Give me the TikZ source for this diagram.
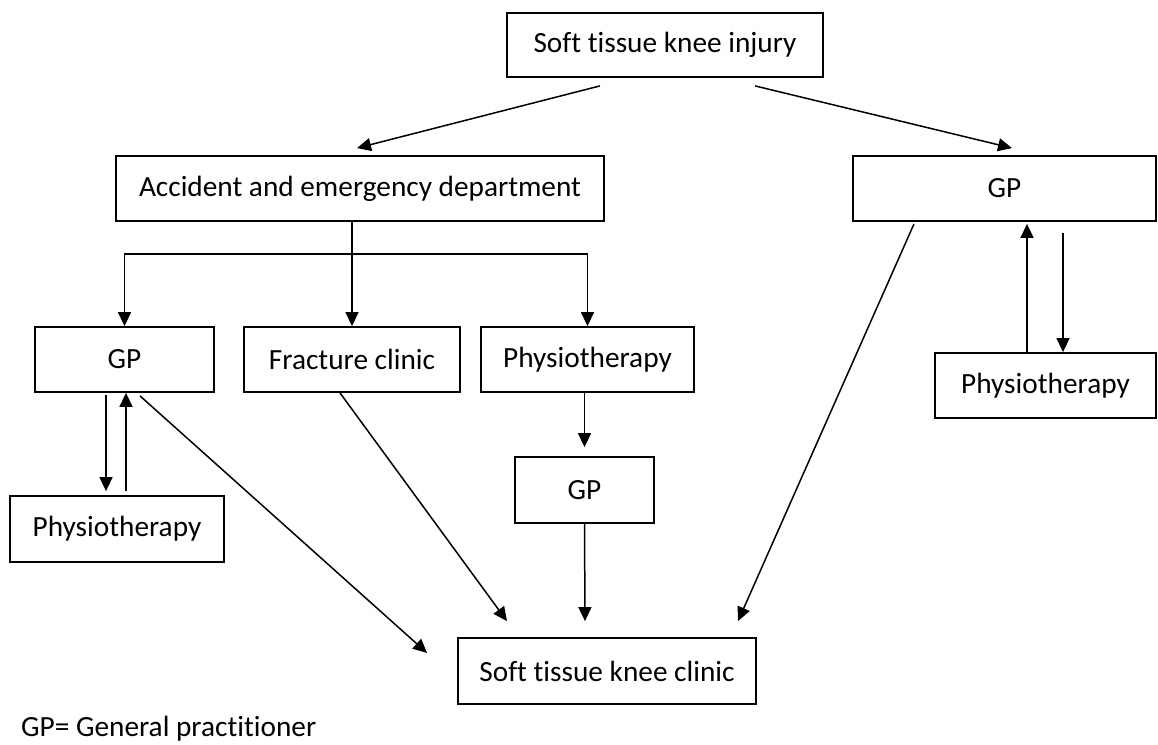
\documentclass[tikz,border=0pt]{standalone}
\usepackage{fontspec}
\setmainfont{Carlito}[Ligatures=NoCommon]
\usetikzlibrary{arrows.meta}

\begin{document}
\begin{tikzpicture}[
    x=1pt, y=-1pt,
    box/.style={draw, line width=1.8pt, inner sep=0pt, align=center, font=\fontsize{29.3}{35}\selectfont},
    arrow/.style={-{Triangle[length=14pt,width=13pt]}, line width=1.5pt}
]
    \useasboundingbox (0,0) rectangle (1158,744);

    \node[box, minimum width=316pt, minimum height=64pt] (injury) at (665, 45) {Soft tissue knee injury};
    \node[box, minimum width=488pt, minimum height=65pt] (ae) at (360, 188.5) {Accident and emergency department};
    \node[box, minimum width=303pt, minimum height=65pt] (gpR) at (1004.5, 188.5) {GP};
    \node[box, minimum width=179pt, minimum height=65pt] (gpL) at (124.5, 359.5) {GP};
    \node[box, minimum width=216pt, minimum height=65pt] (frac) at (352, 359.5) {Fracture clinic};
    \node[box, minimum width=213pt, minimum height=65pt] (physM) at (587.5, 359.5) {Physiotherapy};
    \node[box, minimum width=139pt, minimum height=66pt] (gpM) at (584.5, 490) {GP};
    \node[box, minimum width=214pt, minimum height=66pt] (physL) at (117, 529) {Physiotherapy};
    \node[box, minimum width=221pt, minimum height=65pt] (physR) at (1045.5, 385.5) {Physiotherapy};
    \node[box, minimum width=298pt, minimum height=66pt] (clinic) at (607, 671) {Soft tissue knee clinic};
    \node[anchor=base west, inner sep=0pt, font=\fontsize{29.3}{35}\selectfont] (note) at (21, 736) {GP= General practitioner};

    \coordinate (split) at (350, 254);

    \draw[arrow] ([xshift=-65pt,yshift=-8pt]injury.south) -- ([xshift=-3pt,yshift=7pt]ae.north);
    \draw[arrow] ([xshift=90pt,yshift=-8pt]injury.south) -- ([xshift=7.5pt,yshift=7pt]gpR.north);

    \draw[arrow] (frac.north |- ae.south) -- (frac.north);
    \draw[arrow] (split -| physM.north) -- (split -| gpL.north) -- (gpL.north);
    \draw[arrow] (split -| physM.north) -- (physM.north);

    \draw[arrow] ([xshift=-18.5pt,yshift=-2pt]gpL.south) -- ([xshift=-11pt,yshift=4pt]physL.north);
    \draw[arrow] ([xshift=9pt,yshift=4pt]physL.north) -- ([xshift=1.5pt]gpL.south);
    \draw[arrow] ([xshift=15.5pt,yshift=-3pt]gpL.south) -- ([xshift=-30pt,yshift=18pt]clinic.west);

    \draw[arrow] ([xshift=-12pt]frac.south) -- ([xshift=-100pt,yshift=16pt]clinic.north);
    \draw[arrow] (gpM.north |- physM.south) -- ([yshift=9pt]gpM.north);
    \draw[arrow] (gpM.south) -- ([xshift=-22pt,yshift=16pt]clinic.north);

    \draw[arrow] ([xshift=-90.5pt,yshift=-2pt]gpR.south) -- ([xshift=131pt,yshift=16pt]clinic.north);
    \draw[arrow] ([xshift=-18.5pt]physR.north) -- ([xshift=22.5pt,yshift=-2pt]gpR.south);
    \draw[arrow] ([xshift=58.5pt,yshift=-11pt]gpR.south) -- ([xshift=17.5pt]physR.north);
\end{tikzpicture}
\end{document}
